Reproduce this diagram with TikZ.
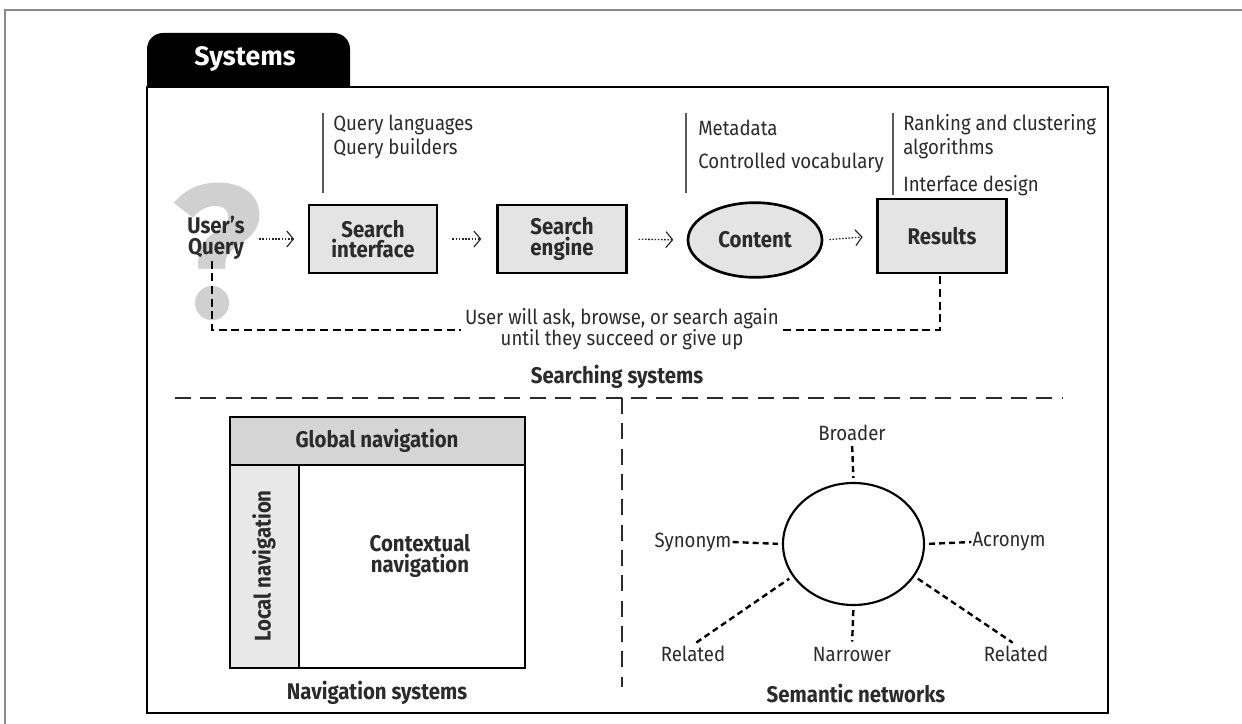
\documentclass[tikz,border=0pt]{standalone}
\usepackage{fontspec}
\setmainfont{Fira Sans}[FakeStretch=0.9]
\newfontfamily\tabfont{Fira Sans}
\usetikzlibrary{shapes.geometric,arrows.meta}

\definecolor{boxgray}{HTML}{E4E4E4}
\definecolor{globalgray}{HTML}{D5D5D5}
\definecolor{localgray}{HTML}{E8E8E8}
\definecolor{qgray}{HTML}{D0D0D0}
\definecolor{txtdark}{HTML}{2B2B2B}
\definecolor{anngray}{HTML}{5A5A5A}
\definecolor{framegray}{HTML}{8A8A8A}

\tikzset{
  lbl/.style={inner sep=0.75pt, text=txtdark, font=\fontsize{15.5}{18}\selectfont},
  blbl/.style={inner sep=0.75pt, text=txtdark, align=center, font=\fontsize{17}{15.5}\selectfont\bfseries},
  procbox/.style={draw, line width=2.2pt, fill=boxgray, align=center, text=txtdark,
    font=\fontsize{17}{15.5}\selectfont\bfseries, minimum width=96pt, minimum height=51pt},
  flow/.style={line width=1pt, dash pattern=on 1.2pt off 1.2pt, draw=txtdark,
    -{Straight Barb[length=5pt,width=12pt,line width=0.9pt]}},
  loopline/.style={line width=1.8pt, dash pattern=on 6pt off 3.5pt},
  relline/.style={line width=1.8pt, dash pattern=on 4.5pt off 3pt, shorten <=3pt, shorten >=3pt},
  sepline/.style={line width=1.1pt, dash pattern=on 12pt off 7pt, draw=txtdark},
  annline/.style={line width=1.3pt, draw=anngray}
}

\begin{document}
\begin{tikzpicture}[x=0.75pt,y=0.75pt,yscale=-1,xscale=1]
\useasboundingbox (0,0) rectangle (1242,724);

%Page frame
\draw[framegray, line width=1.5pt] (5,724) -- (5,10) -- (1242,10);

%Shape: Tab
\fill[rounded corners=12pt] (147,33) rectangle (350,110);
\node[anchor=base, text=white, inner sep=0pt, font=\tabfont\fontsize{20}{22}\selectfont\bfseries] (tab) at (245,65) {Systems};
%Shape: Main box
\draw[line width=2.2pt, fill=white] (147,87) rectangle (1108,713);

%Question mark
\node[anchor=base, inner sep=0pt, text=qgray, font=\tabfont\fontsize{142}{142}\selectfont\bfseries] (qmark) at (217,317) {?};

% Text Node
\node[blbl] (query) at (216,238) {User’s\\Query};
\node[procbox] (searchif) at (373,239) {Search\\interface};
\node[procbox, minimum width=96.75pt] (engine) at (562,239) {Search\\engine};
\node[ellipse, draw, line width=2pt, fill=boxgray, text=txtdark, font=\fontsize{17}{15.5}\selectfont\bfseries,
  minimum width=100.5pt, minimum height=56pt, inner sep=0pt] (content) at (755,240) {Content};
\node[procbox, minimum width=96.75pt, minimum height=55.5pt] (results) at (942,236) {Results};

%Flow arrows
\draw[flow, shorten <=10pt, shorten >=10pt] (query.east |- searchif) -- (searchif.west);
\draw[flow, shorten <=10.5pt, shorten >=11pt] (searchif.east) -- (engine.west);
\draw[flow, shorten <=8pt, shorten >=10pt] (engine.east) -- (content.west);
\draw[flow, shorten <=4.5pt, shorten >=10pt] (content.east) -- (results.west);

%Annotations
\draw[annline] (323,113) -- (323,193);
\node[lbl, anchor=west] (qlang) at (332,125) {Query languages};
\node[lbl, anchor=west] (qbuild) at (332,149) {Query builders};
\draw[annline] (686,113) -- (686,193);
\node[lbl, anchor=west] (meta) at (697,128) {Metadata};
\node[lbl, anchor=west] (vocab) at (697,163) {Controlled vocabulary};
\draw[annline] (893,113) -- (893,195);
\node[lbl, anchor=west] (rank) at (902,125) {Ranking and clustering};
\node[lbl, anchor=west] (algo) at (902,149) {algorithms};
\node[lbl, anchor=west] (design) at (902,186) {Interface design};

%Feedback loop
\coordinate (loopL) at (212,330);
\coordinate (loopR) at (940,330);
\node[lbl, align=center, font=\fontsize{15.5}{15.5}\selectfont, inner sep=3pt] (again) at (622,329) {User will ask, browse, or search again\\until they succeed or give up};
\draw[loopline] (query.south -| loopL) -- (loopL) -- (again.west |- loopL);
\draw[loopline] (again.east |- loopR) -- (loopR) -- (results.south -| loopR);
\node[blbl] (searching) at (617,377) {Searching systems};

%Separators
\draw[sepline] (175,398) -- (1063,398);
\draw[sepline] (622,398) -- (622,687);

%Navigation systems
\fill[globalgray] (230,417) rectangle (525,465);
\fill[localgray] (230,465) rectangle (299,668);
\draw[line width=2pt] (230,417) rectangle (525,668);
\draw[line width=2pt] (230,465) -- (525,465);
\draw[line width=2pt] (299,465) -- (299,668);
\node[blbl] (global) at (377,441) {Global navigation};
\node[blbl, rotate=90] (local) at (264,566) {Local navigation};
\node[blbl] (context) at (420,556) {Contextual\\navigation};
\node[blbl] (navsys) at (377,693) {Navigation systems};

%Semantic networks
\node[ellipse, draw, line width=1.6pt, minimum width=105.75pt, minimum height=91.5pt] (term) at (853.5,544) {};
\node[lbl] (broader) at (852,433) {Broader};
\node[lbl] (synonym) at (693,542) {Synonym};
\node[lbl] (acronym) at (1009,542) {Acronym};
\node[lbl] (relL) at (693,654) {Related};
\node[lbl] (narrower) at (852,654) {Narrower};
\node[lbl] (relR) at (1016,654) {Related};
\draw[relline] (broader.south) -- (term.north);
\draw[relline, shorten <=0pt] (synonym.east) -- (term.west);
\draw[relline, shorten >=0pt] (term.east) -- (acronym.west);
\draw[relline] (relL.north) -- (term.208);
\draw[relline] (term.-28) -- (relR.north);
\draw[relline] (term.south) -- (narrower.north);
\node[blbl] (semnet) at (856,693) {Semantic networks};

\end{tikzpicture}
\end{document}
